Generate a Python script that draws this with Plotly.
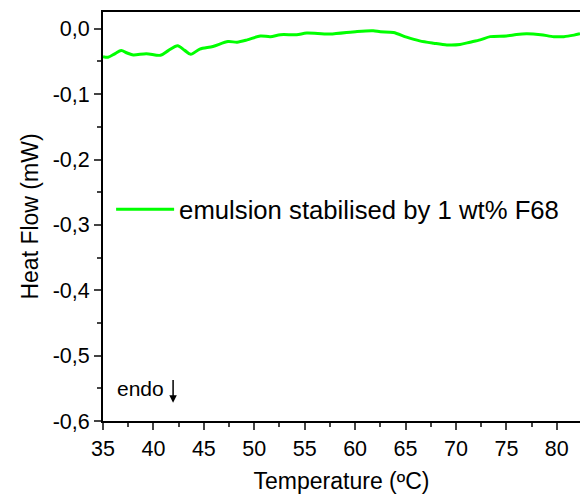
import plotly.graph_objects as go

temperature = [35.0, 35.5, 36.2, 36.8, 37.4, 38.0, 39.3, 40.7, 41.5, 42.4, 43.1, 43.7, 44.6,
               45.9, 47.4, 48.3, 49.3, 50.6, 51.6, 52.6, 54.2, 55.2, 57.5, 60.2, 61.8,
               62.5, 63.8, 65.1, 66.4, 67.8, 69.1, 70.4, 71.4, 72.4, 73.4, 75.0, 76.0,
               77.0, 78.4, 79.7, 80.7, 81.7, 82.3]
heat_flow = [-0.0426, -0.0436, -0.038, -0.0333, -0.037, -0.040, -0.038, -0.0405, -0.033, -0.026,
             -0.033, -0.039, -0.031, -0.027, -0.0195, -0.0205, -0.017, -0.011, -0.012, -0.009,
             -0.009, -0.0066, -0.008, -0.004, -0.003, -0.0046, -0.0057, -0.0128, -0.0185,
             -0.022, -0.0246, -0.024, -0.0205, -0.017, -0.012, -0.011, -0.0088, -0.0077,
             -0.009, -0.012, -0.012, -0.0097, -0.0077]

series_name = "emulsion stabilised by 1 wt% F68"
x_ticks = [35, 40, 45, 50, 55, 60, 65, 70, 75, 80]
y_ticks = [0.0, -0.1, -0.2, -0.3, -0.4, -0.5, -0.6]
y_tick_labels = ["0,0", "-0,1", "-0,2", "-0,3", "-0,4", "-0,5", "-0,6"]

font = "Liberation Sans, Arial, sans-serif"

fig = go.Figure()
fig.add_trace(go.Scatter(
    x=temperature, y=heat_flow, mode="lines", name=series_name,
    line=dict(color="#00FF00", width=3, shape="spline", smoothing=0.8),
))

fig.update_layout(
    width=580, height=495,
    margin=dict(l=103, r=0, t=12, b=74),
    plot_bgcolor="white", paper_bgcolor="white",
    font=dict(family=font, size=20, color="black"),
    showlegend=True,
    legend=dict(x=0.017, y=0.517, xanchor="left", yanchor="middle",
                bgcolor="rgba(0,0,0,0)", font=dict(size=25.7, family=font),
                itemwidth=58),
    annotations=[
        dict(text="endo", x=36.2, y=-0.551, xref="x", yref="y", showarrow=False,
             xanchor="left", yanchor="middle", font=dict(size=21, family=font)),
        dict(x=41.95, y=-0.572, ax=41.95, ay=-0.535, xref="x", yref="y", axref="x", ayref="y",
             text="", showarrow=True, arrowhead=2, arrowsize=1, arrowwidth=1.5, arrowcolor="black"),
    ],
)

fig.update_xaxes(
    range=[35, 82.3], tickvals=x_ticks, ticks="outside", ticklen=7, tickwidth=2,
    showline=True, linecolor="black", linewidth=2, mirror=True,
    showgrid=False, zeroline=False,
    minor=dict(dtick=2.5, tick0=35, ticks="outside", ticklen=4, tickwidth=1.5, showgrid=False),
    title=dict(text="Temperature (ºC)", font=dict(size=23, family=font), standoff=13),
    tickfont=dict(size=21.5, family=font),
)
fig.update_yaxes(
    range=[-0.6, 0.0257], tickvals=y_ticks, ticktext=y_tick_labels, ticks="outside", ticklen=7, tickwidth=2,
    showline=True, linecolor="black", linewidth=2, mirror=False,
    showgrid=False, zeroline=False,
    minor=dict(dtick=0.05, tick0=0, ticks="outside", ticklen=4, tickwidth=1.5, showgrid=False),
    title=dict(text="Heat Flow (mW)", font=dict(size=23, family=font), standoff=8),
    tickfont=dict(size=21.5, family=font),
)

fig.write_html("out.html", config={"displayModeBar": False},
               post_script="document.body.style.margin='0';")
